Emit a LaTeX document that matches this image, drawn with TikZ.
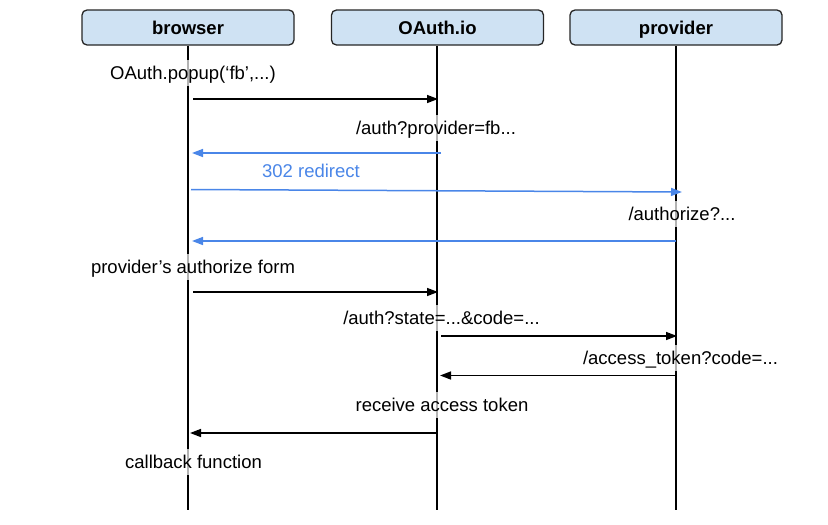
\documentclass[tikz,border=0pt]{standalone}
\usepackage{fontspec}
\setmainfont{Liberation Sans}
\usetikzlibrary{arrows.meta}
\definecolor{boxfill}{HTML}{CFE2F3}
\definecolor{msgblue}{HTML}{4A86E8}
\begin{document}
\begin{tikzpicture}[x=1pt,y=-1pt,
  actor/.style={draw=black!85, line width=1.3pt, fill=boxfill, rounded corners=5pt,
    minimum width=212pt, minimum height=35pt, text height=15.5pt, text depth=2.5pt,
    font=\bfseries\fontsize{18.5}{22}\selectfont},
  life/.style={line width=1.5pt, black},
  lbl/.style={fill=white, fill opacity=0.7, text opacity=1, inner xsep=2pt, inner ysep=4pt,
    text height=15pt, text depth=3pt, font=\fontsize{18.5}{22}\selectfont},
  msg/.style={line width=1.5pt, -{Triangle[length=11pt,width=8pt]}},
  blu/.style={msg, draw=msgblue, color=msgblue}]
\useasboundingbox (0,0) rectangle (828,525);
% actors
\node[actor] (browser) at (188,27.5) {browser};
\node[actor] (oauth) at (437.5,27.5) {OAuth.io};
\node[actor] (provider) at (676,27.5) {provider};
% lifeline ends
\coordinate (bEnd) at (188,510);
\coordinate (oEnd) at (437,510);
\coordinate (pEnd) at (676,510);
\draw[life] (browser.south) -- (bEnd);
\draw[life] (oauth.south -| oEnd) -- (oEnd);
\draw[life] (provider.south) -- (pEnd);
% labels
\node[lbl] (l1) at (193,73) {OAuth.popup(‘fb’,...)};
\node[lbl] (l2) at (436,128) {/auth?provider=fb...};
\node[lbl, text=msgblue] (l3) at (311,171) {302 redirect};
\node[lbl] (l4) at (682,214) {/authorize?...};
\node[lbl] (l5) at (193,267) {provider’s authorize form};
\node[lbl] (l6) at (441.5,318) {/auth?state=...\&code=...};
\node[lbl] (l7) at (680.5,358) {/access\_token?code=...};
\node[lbl] (l8) at (442,405) {receive access token};
\node[lbl] (l9) at (193.5,462) {callback function};
% message endpoints
\coordinate (a1s) at (193,99);   \coordinate (a1e) at (438,99);
\coordinate (a2s) at (441,153);  \coordinate (a2e) at (192,153);
\coordinate (a3s) at (191,189.5);\coordinate (a3e) at (682,192);
\coordinate (a4s) at (676,241);  \coordinate (a4e) at (192,241);
\coordinate (a5s) at (193,292);  \coordinate (a5e) at (438,292);
\coordinate (a6s) at (441,336);  \coordinate (a6e) at (677,336);
\coordinate (a7s) at (676,375.5);\coordinate (a7e) at (440,375.5);
\coordinate (a8s) at (437,433);  \coordinate (a8e) at (190,433);
% messages
\draw[msg] (a1s) -- (a1e);
\draw[blu] (a2s) -- (a2e);
\draw[blu] (a3s) -- (a3e);
\draw[blu] (a4s) -- (a4e);
\draw[msg] (a5s) -- (a5e);
\draw[msg] (a6s) -- (a6e);
\draw[msg] (a7s) -- (a7e);
\draw[msg] (a8s) -- (a8e);
\end{tikzpicture}
\end{document}
